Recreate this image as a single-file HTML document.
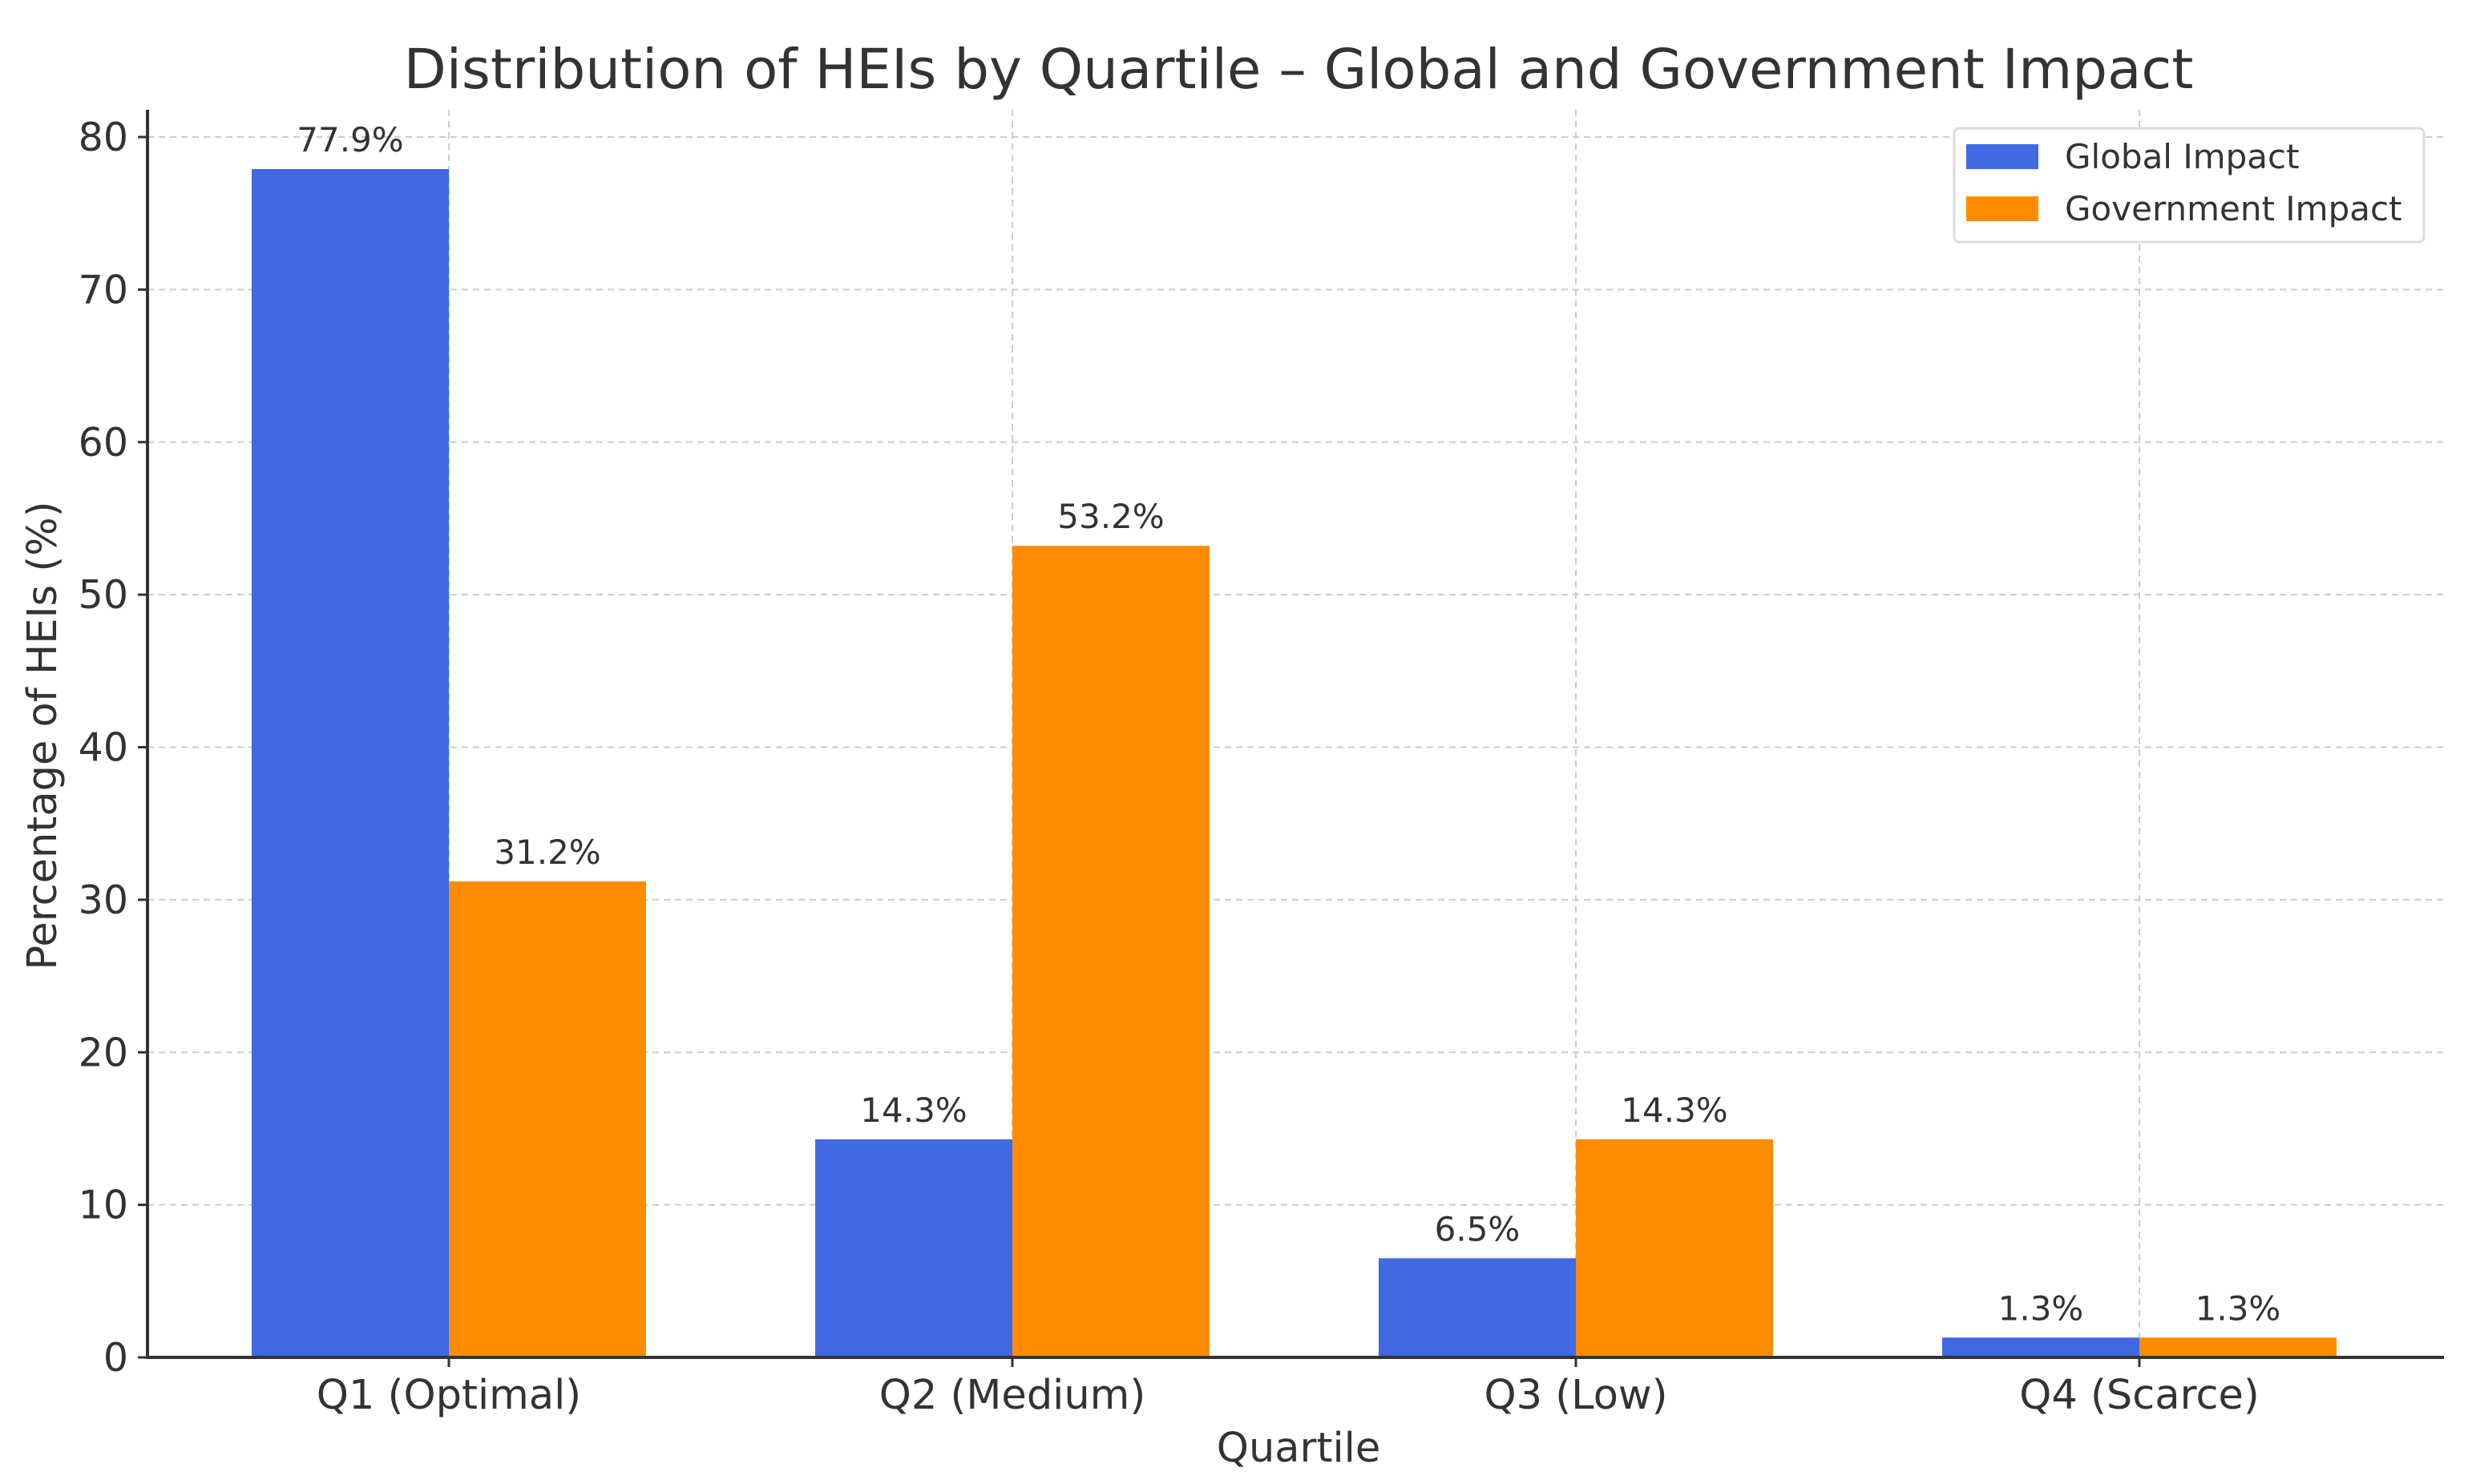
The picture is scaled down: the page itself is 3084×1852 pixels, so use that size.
<!DOCTYPE html>
<html><head><meta charset="utf-8"><style>
html,body{margin:0;padding:0;background:#fff;}
svg text{font-family:"DejaVu Sans","Liberation Sans",sans-serif;fill:#333;}
</style></head><body>
<svg id="chart" width="3084" height="1847" viewBox="0 0 3084 1847" xmlns="http://www.w3.org/2000/svg">
<rect width="3084" height="1847" fill="#fff"/>
<text x="1620" y="110" font-size="69" text-anchor="middle" style="fill:#333">Distribution of HEIs by Quartile – Global and Government Impact</text>
<g id="grid"></g>
<g id="bars"></g>
<g id="labels"></g>
<line x1="184" y1="137" x2="184" y2="1694" stroke="#333" stroke-width="4"/>
<line x1="182" y1="1694" x2="3049" y2="1694" stroke="#333" stroke-width="4"/>
<g id="ticks"></g>
<text x="1620" y="1824" font-size="51" text-anchor="middle">Quartile</text>
<text transform="translate(70,918) rotate(-90)" font-size="51" text-anchor="middle">Percentage of HEIs (%)</text>
<g>
<rect x="2438" y="160" width="586" height="142" fill="#fff" stroke="#ddd" stroke-width="3" rx="6"/>
<rect x="2453" y="180" width="90" height="31" fill="#4169E1"/>
<text x="2576" y="210" font-size="42">Global Impact</text>
<rect x="2453" y="245" width="90" height="31" fill="#FF8C00"/>
<text x="2576" y="275" font-size="42">Government Impact</text>
</g>
</svg>
<script>
const categories = ["Q1 (Optimal)", "Q2 (Medium)", "Q3 (Low)", "Q4 (Scarce)"];
const globalValues = [77.9, 14.3, 6.5, 1.3];
const governmentValues = [31.2, 53.2, 14.3, 1.3];
const yTicks = [0, 10, 20, 30, 40, 50, 60, 70, 80];

const NS = "http://www.w3.org/2000/svg";
const y0 = 1694, yPerUnit = (1694 - 171) / 80;
const x0 = 560, xStep = 703, barW = 246;
function yScale(v){ return y0 - v * yPerUnit; }
function xScale(i){ return x0 + i * xStep; }
function mk(tag, attrs, parent){ const e = document.createElementNS(NS, tag); for (const k in attrs) e.setAttribute(k, attrs[k]); parent.appendChild(e); return e; }

const grid = document.getElementById('grid');
const bars = document.getElementById('bars');
const labels = document.getElementById('labels');
const ticks = document.getElementById('ticks');

yTicks.forEach(t => {
  const y = yScale(t);
  if (t > 0) {
    const g = mk('line', {x1:184, x2:3049, y1:y, y2:y, stroke:'#ccc', 'stroke-width':2, 'stroke-dasharray':'8,6'}, grid);
    
    
  }
  const tk = mk('line', {x1:172, x2:184, y1:y, y2:y, stroke:'#333', 'stroke-width':3}, ticks);
  
  
  const tl = mk('text', {x:160, y:y+17, 'font-size':49, 'text-anchor':'end'}, ticks);
  tl.textContent = t;
  
  
});

categories.forEach((c, i) => {
  const cx = xScale(i);
  const vg = mk('line', {x1:cx, x2:cx, y1:137, y2:y0, stroke:'#ccc', 'stroke-width':2, 'stroke-dasharray':'8,6'}, grid);
  
  

  const series = [[globalValues[i], '#4169E1', cx - barW, 'global'], [governmentValues[i], '#FF8C00', cx, 'government']];
  series.forEach(s => {
    const yt = yScale(s[0]);
    const r = mk('rect', {x:s[2], y:yt, width:barW, height:y0 - yt, fill:s[1]}, bars);
    
    
    const lt = mk('text', {x:s[2] + barW/2, y:yt - 22, 'font-size':42, 'text-anchor':'middle'}, labels);
    lt.textContent = s[0].toFixed(1) + '%';
    
    
  });

  const tk = mk('line', {x1:cx, x2:cx, y1:y0, y2:y0+12, stroke:'#333', 'stroke-width':3}, ticks);
  
  
  const xl = mk('text', {x:cx, y:1758, 'font-size':51, 'text-anchor':'middle'}, ticks);
  xl.textContent = c;
  
  
});
</script>
</body></html>
